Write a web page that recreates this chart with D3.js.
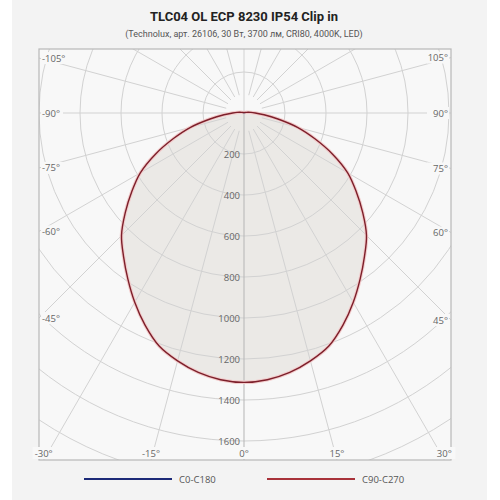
<!DOCTYPE html>
<html>
<head>
<meta charset="utf-8">
<script src="https://cdn.jsdelivr.net/npm/d3@7"></script>
<style>
    body { margin: 0; background: #ffffff; }
    text { font-family: 'Open Sans', Roboto, sans-serif; }
</style>
</head>
<body>
<div id="chart"></div>
<script>
    var width = 500, height = 500;

    var title = 'TLC04 OL ECP 8230 IP54 Clip in';
    var subtitle = '(Technolux, арт. 26106, 30 Вт, 3700 лм, CRI80, 4000K, LED)';

    // gamma angles (deg from nadir) and intensities, cd/klm
    var gammas = [0, 5, 10, 15, 20, 25, 30, 35, 40, 45, 50, 55, 60, 65, 70, 75, 80, 85, 90, 95, 100, 105, 120, 135, 150, 165, 180];
    var c0c180 = [1314, 1306, 1285, 1252, 1210, 1142, 1066, 988, 914, 845, 756, 668, 584, 478, 368, 270, 168, 98, 55, 34, 20, 12, 5, 2, 1, 0, 0];
    var c90c270 = [1314, 1306, 1285, 1252, 1210, 1142, 1066, 988, 914, 845, 756, 668, 584, 478, 368, 270, 168, 98, 55, 34, 20, 12, 5, 2, 1, 0, 0];

    var rings = [200, 400, 600, 800, 1000, 1200, 1400, 1600, 1800, 2000];
    var spokes = d3.range(-180, 180, 15);
    var series = ['C0-C180', 'C90-C270'];
    var colors = ['#1c2a78', '#a8323a'];

    var box = {x0: 39, x1: 451, y0: 49, y1: 460};
    var cx = 244, cy = 113;

    var r = d3.scaleLinear().domain([0, 1600]).range([0, 328]);

    var svg = d3.select('#chart').append('svg')
        .attr('width', width)
        .attr('height', height);

    svg.append('rect')
        .attr('x', 12).attr('y', 0)
        .attr('width', 475).attr('height', 500)
        .attr('fill', '#f3f3f3');

    svg.append('text')
        .attr('x', 244).attr('y', 21)
        .attr('text-anchor', 'middle')
        .style('font-family', 'Roboto')
        .style('font-weight', 'bold')
        .style('font-size', '13px')
        .attr('fill', '#222')
        .text(title);

    svg.append('text')
        .attr('x', 244).attr('y', 37)
        .attr('text-anchor', 'middle')
        .style('font-family', 'Roboto')
        .style('font-size', '9px')
        .attr('fill', '#555')
        .text(subtitle);

    svg.append('clipPath').attr('id', 'clip')
        .append('rect')
        .attr('x', box.x0).attr('y', box.y0)
        .attr('width', box.x1 - box.x0).attr('height', box.y1 - box.y0);

    svg.append('rect')
        .attr('x', box.x0).attr('y', box.y0)
        .attr('width', box.x1 - box.x0).attr('height', box.y1 - box.y0)
        .attr('fill', '#f8f8f8');

    var g = svg.append('g').attr('clip-path', 'url(#clip)')
        .append('g').attr('transform', 'translate(' + cx + ',' + cy + ')');

    // angle in degrees from nadir -> d3 radial angle
    function rad(a) { return Math.PI - a * Math.PI / 180; }

    function curvePoints(vals) {
        var pts = [];
        for (var i = gammas.length - 1; i > 0; i--) pts.push([-gammas[i], vals[i]]);
        for (var j = 0; j < gammas.length - 1; j++) pts.push([gammas[j], vals[j]]);
        return pts;
    }

    var line = d3.lineRadial()
        .angle(function(d) { return rad(d[0]); })
        .radius(function(d) { return r(d[1]); })
        .curve(d3.curveCatmullRomClosed);

    // fill under curves
    g.append('path')
        .attr('d', line(curvePoints(c90c270)))
        .attr('fill', '#ebe9e6');

    g.selectAll('circle.ring')
        .data(rings)
        .enter().append('circle')
        .attr('class', 'ring')
        .attr('r', function(d) { return r(d); })
        .attr('fill', 'none')
        .attr('stroke', '#d2d2d2')
        .attr('stroke-width', 1);

    g.selectAll('line.spoke')
        .data(spokes)
        .enter().append('line')
        .attr('class', 'spoke')
        .attr('x1', function(d) { return (d % 90 == 0 ? 0 : r(90)) * Math.sin(d * Math.PI / 180); })
        .attr('y1', function(d) { return (d % 90 == 0 ? 0 : r(90)) * Math.cos(d * Math.PI / 180); })
        .attr('x2', function(d) { return 600 * Math.sin(d * Math.PI / 180); })
        .attr('y2', function(d) { return 600 * Math.cos(d * Math.PI / 180); })
        .attr('stroke', function(d) { return d == 0 ? '#b5b5b5' : '#d2d2d2'; })
        .attr('stroke-width', 1);

    [c0c180, c90c270].forEach(function(vals, k) {
        g.append('path')
            .attr('d', line(curvePoints(vals)))
            .attr('fill', 'none')
            .attr('stroke', k == 1 ? '#f2cccc' : 'none')
            .attr('stroke-width', 3.5);
        g.append('path')
            .attr('d', line(curvePoints(vals)))
            .attr('fill', 'none')
            .attr('stroke', k == 1 ? '#7d1f2a' : colors[0])
            .attr('stroke-width', 1.4);
    });

    svg.append('rect')
        .attr('x', box.x0).attr('y', box.y0)
        .attr('width', box.x1 - box.x0).attr('height', box.y1 - box.y0)
        .attr('fill', 'none')
        .attr('stroke', '#b8b8b8')
        .attr('stroke-width', 1.2);

    // ring labels
    svg.selectAll('text.ring')
        .data(rings.filter(function(d) { return cy + r(d) < box.y1 - 8; }))
        .enter().append('text')
        .attr('class', 'ring')
        .attr('x', cx - 4)
        .attr('y', function(d) { return cy + r(d) + 3.5; })
        .attr('text-anchor', 'end')
        .style('font-size', '9.5px')
        .attr('fill', '#666')
        .text(function(d) { return d; });

    // angle labels where spokes hit the frame
    var angLabels = [];
    spokes.forEach(function(d) {
        if (Math.abs(d) > 105) return;
        var s = Math.sin(d * Math.PI / 180), c = Math.cos(d * Math.PI / 180);
        var t = Infinity;
        if (s < -1e-9) t = Math.min(t, (box.x0 - cx) / s);
        if (s > 1e-9) t = Math.min(t, (box.x1 - cx) / s);
        if (c > 1e-9) t = Math.min(t, (box.y1 - cy) / c);
        if (c < -1e-9) t = Math.min(t, (box.y0 - cy) / c);
        var px = cx + t * s, py = cy + t * c;
        var anchor = 'middle';
        if (Math.abs(px - box.x0) < 1) { anchor = 'start'; px = box.x0 + 3; }
        else if (Math.abs(px - box.x1) < 1) { anchor = 'end'; px = box.x1 - 3; }
        py = Math.max(box.y0 + 7, Math.min(box.y1 - 7, py));
        angLabels.push({a: d, x: px, y: py, anchor: anchor});
    });

    var al = svg.selectAll('g.ang')
        .data(angLabels)
        .enter().append('g')
        .attr('class', 'ang');

    al.append('rect')
        .attr('x', function(d) { return d.anchor == 'start' ? d.x - 1 : d.anchor == 'end' ? d.x - 21 : d.x - 11; })
        .attr('y', function(d) { return d.y - 6; })
        .attr('width', 22)
        .attr('height', 12)
        .attr('fill', '#f8f8f8');

    al.append('text')
        .attr('x', function(d) { return d.x; })
        .attr('y', function(d) { return d.y + 3.5; })
        .attr('text-anchor', function(d) { return d.anchor; })
        .style('font-size', '9.5px')
        .attr('fill', '#666')
        .text(function(d) { return d.a + '°'; });

    // legend
    var leg = svg.selectAll('g.leg')
        .data(series)
        .enter().append('g')
        .attr('class', 'leg')
        .attr('transform', function(d, i) { return 'translate(' + (84 + i * 183) + ',479)'; });

    leg.append('line')
        .attr('x1', 0).attr('x2', 88)
        .attr('stroke', function(d, i) { return colors[i]; })
        .attr('stroke-width', 2);

    leg.append('text')
        .attr('x', 95).attr('y', 3.5)
        .style('font-size', '9.5px')
        .attr('fill', '#555')
        .text(function(d) { return d; });
</script>
</body>
</html>
